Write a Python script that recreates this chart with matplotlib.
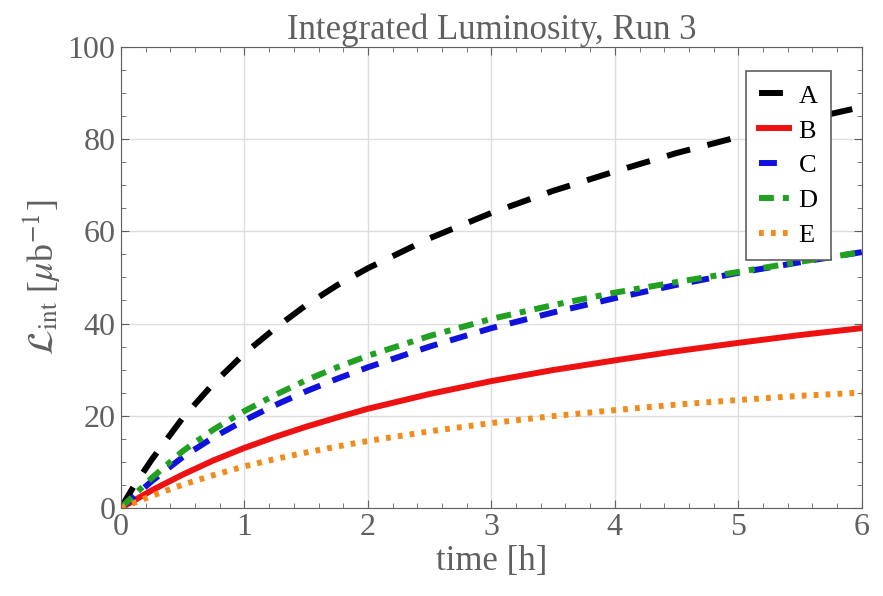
import matplotlib
matplotlib.use('Agg')
import matplotlib.pyplot as plt
from matplotlib.ticker import MultipleLocator

plt.rcParams['font.family'] = ['Liberation Serif', 'DejaVu Serif']
plt.rcParams['mathtext.fontset'] = 'stix'

t = [0, 0.1, 0.25, 0.5, 0.75, 1, 1.25, 1.5, 1.75, 2, 2.5, 3, 3.5, 4, 4.5, 5, 5.5, 6]
lum_A = [0, 4.5, 10.5, 19.5, 27, 33.5, 39, 44, 48.3, 52, 58.5, 64, 68.8, 73, 77, 80.5, 84, 87]
lum_B = [0, 1.5, 3.8, 7.2, 10.3, 13, 15.4, 17.6, 19.6, 21.5, 24.7, 27.5, 29.9, 32, 34, 35.8, 37.5, 39]
lum_C = [0, 2.3, 5.8, 11, 15.3, 19, 22.3, 25.3, 28, 30.5, 35, 39, 42.4, 45.5, 48.4, 51, 53.3, 55.5]
lum_D = [0, 2.6, 6.5, 12.3, 17, 21, 24.5, 27.7, 30.5, 33, 37.3, 41, 44, 46.7, 49, 51.2, 53.4, 55.5]
lum_E = [0, 1, 2.6, 5, 7.1, 9, 10.6, 12, 13.3, 14.5, 16.6, 18.4, 19.9, 21.2, 22.4, 23.4, 24.3, 25]
labels = ['A', 'B', 'C', 'D', 'E']

gray = '#606060'
fig = plt.figure(figsize=(8.83, 5.96), dpi=100)
ax = fig.add_axes([0.137, 0.148, 0.839, 0.773])

ax.plot(t, lum_A, color='black', lw=4.3, dashes=(4, 3), label=labels[0])
ax.plot(t, lum_B, color='#ee1111', lw=4.3, label=labels[1])
ax.plot(t, lum_C, color='#1111dd', lw=4.3, dashes=(3, 2.2), label=labels[2])
ax.plot(t, lum_D, color='#22a022', lw=4.3, dashes=(2.5, 1.5, 1, 1.5), label=labels[3])
ax.plot(t, lum_E, color='#f08c1e', lw=4.3, dashes=(0.8, 1.2), label=labels[4])

ax.set_xlim(0, 6)
ax.set_ylim(0, 100)
ax.xaxis.set_major_locator(MultipleLocator(1))
ax.xaxis.set_minor_locator(MultipleLocator(0.2))
ax.yaxis.set_major_locator(MultipleLocator(20))
ax.yaxis.set_minor_locator(MultipleLocator(5))
ax.tick_params(which='both', direction='in', top=True, right=True, color=gray,
               labelcolor=gray, labelsize=23, pad=4)
ax.tick_params(which='major', length=6)
ax.tick_params(which='minor', length=3.5)
ax.grid(True, color='#dddddd', lw=1)
for s in ax.spines.values():
    s.set_color(gray)

ax.set_title('Integrated Luminosity, Run 3', color=gray, fontsize=25, pad=6)
ax.set_xlabel('time [h]', color=gray, fontsize=25, labelpad=2)
ax.set_ylabel(r'$\mathcal{L}_{\rm int}$ [$\mu$b$^{-1}$]', color=gray, fontsize=26, labelpad=4)

leg = ax.legend(loc='upper right', bbox_to_anchor=(0.958, 0.948), borderaxespad=0,
                fontsize=19, frameon=True, fancybox=False, framealpha=1,
                edgecolor=gray, handlelength=1.15, handletextpad=0.35,
                labelspacing=0.43, borderpad=0.5)
leg.get_frame().set_linewidth(1.2)

fig.savefig('out.png', dpi=100)
